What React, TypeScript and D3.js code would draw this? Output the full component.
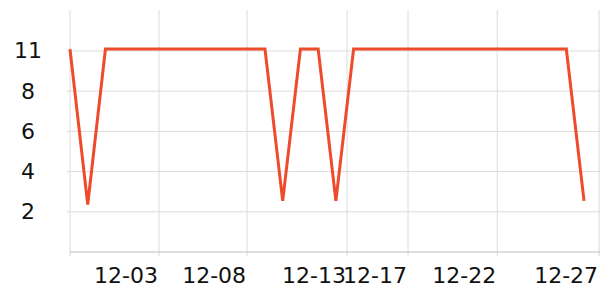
import React from "react";
import * as d3 from "d3";

const days: number[] = Array.from({ length: 30 }, (_, i) => i);
const values: number[] = [
  11.1, 2.6, 11.1, 11.1, 11.1, 11.1, 11.1, 11.1, 11.1, 11.1,
  11.1, 11.1, 2.8, 11.1, 11.1, 2.8, 11.1, 11.1, 11.1, 11.1,
  11.1, 11.1, 11.1, 11.1, 11.1, 11.1, 11.1, 11.1, 11.1, 2.8,
];
const xTickDays: number[] = [0, 5.02, 9.99, 15.63, 19.07, 24.1, 29.85];
const xTickLabels: string[] = ["", "12-03", "12-08", "12-13", "12-17", "12-22", "12-27"];
const yTicks: number[] = [2.2, 4.4, 6.6, 8.8, 11];

const W = 600;
const H = 300;
const left = 70;
const right = 600;
const top = 10;
const bottom = 252;

export default function App() {
  const x = d3.scaleLinear().domain([0, 29.9]).range([left, right]);
  const y = d3.scaleLinear().domain([0, 13.24]).range([bottom, top]);
  const line = d3
    .line<number>()
    .x((_, i) => x(days[i]))
    .y((d) => y(d));
  const font = "DejaVu Sans, sans-serif";
  return (
    <svg
      width={W}
      height={H}
      style={{ position: "absolute", left: 0, top: 0, display: "block" }}
    >
      <rect width={W} height={H} fill="#fff" />
      {yTicks.map((t, i) => (
        <g key={"y" + i}>
          <line x1={left - 3} x2={right} y1={y(t)} y2={y(t)} stroke="#dcdcdc" strokeWidth={1} />
          <text
            x={28}
            y={y(t)}
            textAnchor="middle"
            dominantBaseline="central"
            fontFamily={font}
            fontSize={22}
            fill="#111"
          >
            {Math.floor(t + 1e-9)}
          </text>
        </g>
      ))}
      {xTickDays.map((t, i) => (
        <g key={"x" + i}>
          <line x1={x(t)} x2={x(t)} y1={top} y2={bottom + 4} stroke="#dcdcdc" strokeWidth={1} />
          <text
            x={x(t) - 1}
            y={283}
            textAnchor="end"
            fontFamily={font}
            fontSize={22}
            fill="#111"
          >
            {xTickLabels[i]}
          </text>
        </g>
      ))}
      <line x1={left} x2={right} y1={bottom} y2={bottom} stroke="#bdbdbd" strokeWidth={1} />
      <path d={line(values) || ""} fill="none" stroke="#EE4B2B" strokeWidth={3} strokeLinejoin="miter" />
    </svg>
  );
}
